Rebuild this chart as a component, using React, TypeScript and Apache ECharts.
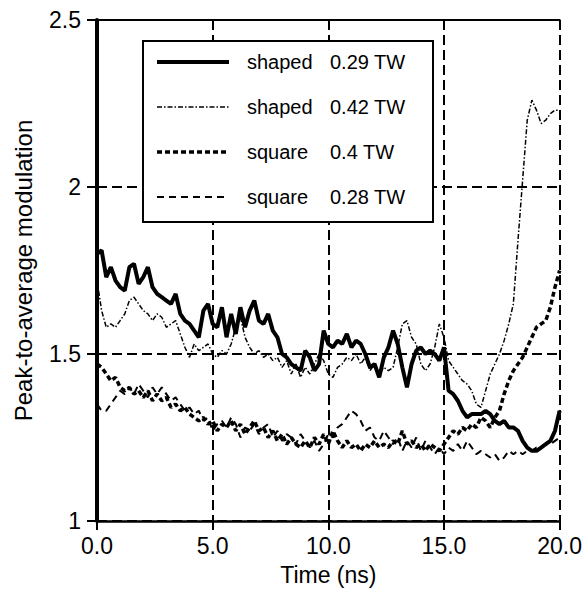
import React, { useEffect, useRef } from "react";
import * as echarts from "echarts";

const T_STEP = 0.2; // ns between samples

const shaped029 = [
  1.80, 1.81, 1.73, 1.76, 1.72, 1.70, 1.69, 1.76, 1.77, 1.71,
  1.73, 1.76, 1.70, 1.68, 1.67, 1.66, 1.65, 1.68, 1.62, 1.60,
  1.59, 1.57, 1.55, 1.63, 1.65, 1.59, 1.58, 1.64, 1.55, 1.62,
  1.56, 1.64, 1.58, 1.63, 1.66, 1.60, 1.59, 1.62, 1.57, 1.55,
  1.50, 1.49, 1.47, 1.46, 1.45, 1.51, 1.49, 1.45, 1.47, 1.57,
  1.53, 1.52, 1.54, 1.53, 1.56, 1.52, 1.54, 1.53, 1.50, 1.46,
  1.47, 1.43, 1.49, 1.52, 1.57, 1.53, 1.46, 1.40, 1.47, 1.51,
  1.52, 1.50, 1.51, 1.50, 1.48, 1.52, 1.39, 1.38, 1.36, 1.33,
  1.31, 1.32, 1.32, 1.32, 1.33, 1.32, 1.30, 1.29, 1.30, 1.28,
  1.28, 1.27, 1.24, 1.22, 1.21, 1.21, 1.22, 1.23, 1.24, 1.27,
  1.33,
];

const shaped042 = [
  1.72, 1.63, 1.58, 1.59, 1.58, 1.60, 1.62, 1.66, 1.67, 1.65,
  1.63, 1.62, 1.60, 1.62, 1.61, 1.58, 1.59, 1.60, 1.56, 1.52,
  1.49, 1.53, 1.51, 1.52, 1.53, 1.50, 1.49, 1.51, 1.50, 1.53,
  1.58, 1.61, 1.55, 1.52, 1.50, 1.51, 1.49, 1.50, 1.48, 1.49,
  1.46, 1.48, 1.44, 1.47, 1.43, 1.46, 1.44, 1.47, 1.50, 1.48,
  1.44, 1.43, 1.46, 1.47, 1.49, 1.48, 1.50, 1.47, 1.49, 1.45,
  1.47, 1.44, 1.46, 1.45, 1.46, 1.52, 1.59, 1.60, 1.55, 1.53,
  1.47, 1.45, 1.47, 1.52, 1.59, 1.55, 1.48, 1.46, 1.44, 1.42,
  1.41, 1.39, 1.35, 1.34, 1.39, 1.44, 1.47, 1.50, 1.54, 1.59,
  1.65, 1.84, 2.02, 2.20, 2.26, 2.23, 2.19, 2.20, 2.22, 2.23,
  2.23,
];

const square04 = [
  1.47, 1.46, 1.44, 1.42, 1.43, 1.40, 1.39, 1.40, 1.38, 1.39,
  1.37, 1.39, 1.36, 1.38, 1.36, 1.37, 1.34, 1.35, 1.33, 1.34,
  1.32, 1.31, 1.30, 1.31, 1.29, 1.30, 1.27, 1.29, 1.28, 1.30,
  1.27, 1.29, 1.26, 1.28, 1.30, 1.27, 1.28, 1.25, 1.27, 1.24,
  1.26, 1.23, 1.25, 1.23, 1.22, 1.24, 1.22, 1.25, 1.23, 1.26,
  1.23, 1.27, 1.24, 1.22, 1.24, 1.22, 1.23, 1.21, 1.23, 1.22,
  1.24, 1.22, 1.23, 1.22, 1.24, 1.23, 1.27, 1.23, 1.24, 1.22,
  1.23, 1.21, 1.23, 1.22, 1.21, 1.23, 1.25, 1.27, 1.26, 1.28,
  1.27, 1.29, 1.28, 1.31, 1.30, 1.28, 1.31, 1.33, 1.38, 1.42,
  1.45, 1.47, 1.49, 1.52, 1.55, 1.58, 1.59, 1.60, 1.64, 1.70,
  1.75,
];

const square028 = [
  1.35, 1.33, 1.33, 1.35, 1.37, 1.39, 1.38, 1.40, 1.38, 1.41,
  1.39, 1.37, 1.40, 1.38, 1.40, 1.38, 1.36, 1.37, 1.35, 1.33,
  1.34, 1.32, 1.33, 1.30, 1.31, 1.27, 1.29, 1.30, 1.28, 1.31,
  1.29, 1.25, 1.28, 1.27, 1.29, 1.26, 1.28, 1.29, 1.25, 1.27,
  1.24, 1.26, 1.25, 1.23, 1.26, 1.24, 1.22, 1.24, 1.21, 1.23,
  1.26, 1.25, 1.28, 1.29, 1.31, 1.33, 1.32, 1.30, 1.27, 1.28,
  1.25, 1.24, 1.27, 1.25, 1.23, 1.25, 1.21, 1.24, 1.22, 1.25,
  1.21, 1.24, 1.22, 1.20, 1.22, 1.20, 1.22, 1.21, 1.23, 1.21,
  1.24, 1.22, 1.20, 1.21, 1.20, 1.19, 1.20, 1.18, 1.19, 1.21,
  1.20, 1.21, 1.20, 1.21, 1.21, 1.22, 1.22, 1.23, 1.23, 1.24,
  1.25,
];

const LEGEND_KIND = ["shaped", "shaped", "square", "square"];
const LEGEND_POWER = ["0.29 TW", "0.42 TW", "0.4 TW", "0.28 TW"];
const X_TICKS = [0, 5, 10, 15, 20];
const Y_TICKS = [1, 1.5, 2, 2.5];
const X_TITLE = "Time (ns)";
const Y_TITLE = "Peak-to-average modulation";

const FONT = "'Liberation Sans', Arial, Helvetica, sans-serif";

const toPairs = (vals: number[]) => vals.map((v, i) => [+(i * T_STEP).toFixed(2), v]);

export default function App() {
  const ref = useRef<HTMLDivElement>(null);
  useEffect(() => {
    if (!ref.current) return;
    const chart = echarts.init(ref.current, null, { renderer: "svg" });
    const names = LEGEND_KIND.map((k, i) => `${k} ${LEGEND_POWER[i]}`);
    const styles: { width: number; type: any }[] = [
      { width: 4, type: "solid" },
      { width: 1.5, type: [5, 2, 1.5, 2] },
      { width: 3.5, type: [5, 3] },
      { width: 2, type: [7, 5] },
    ];
    const datasets = [shaped029, shaped042, square04, square028];
    const order = [3, 2, 1, 0];
    const series = order.map((i) => ({
      name: names[i],
      type: "line",
      data: toPairs(datasets[i]),
      showSymbol: false,
      symbol: "none",
      xAxisIndex: 0,
      yAxisIndex: 0,
      lineStyle: { color: "#000", width: styles[i].width, type: styles[i].type },
      itemStyle: { color: "#000" },
      z: 3 + (3 - i),
    }));
    chart.setOption({
      animation: false,
      backgroundColor: "#fff",
      textStyle: { fontFamily: FONT, color: "#000" },
      grid: { left: 97, right: 25, top: 20, bottom: 77, containLabel: false },
      legend: {
        data: names.map((n, i) => ({
          name: n,
          lineStyle: { color: "#000", width: styles[i].width, type: styles[i].type },
        })),
        orient: "vertical",
        left: 143,
        top: 41,
        itemWidth: 72,
        itemHeight: 14,
        itemGap: 21,
        padding: [9, 27, 13, 12],
        backgroundColor: "#fff",
        borderColor: "#000",
        borderWidth: 2,
        borderRadius: 0,
        z: 10,
        selectedMode: false,
        itemStyle: {
          color: "rgba(0,0,0,0)",
          borderColor: "rgba(0,0,0,0)",
          borderWidth: 0,
          opacity: 0,
        },
        formatter: (name: string) => {
          const idx = names.indexOf(name);
          return `{a|${LEGEND_KIND[idx]}}{b|${LEGEND_POWER[idx]}}`;
        },
        textStyle: {
          fontFamily: FONT,
          fontSize: 20,
          color: "#000",
          lineHeight: 24,
          rich: {
            a: { fontFamily: FONT, fontSize: 20, width: 83, padding: [0, 0, 0, 13], color: "#000" },
            b: { fontFamily: FONT, fontSize: 20, width: 76, color: "#000" },
          },
        },
      },
      xAxis: [
        {
          type: "value",
          min: X_TICKS[0],
          max: X_TICKS[X_TICKS.length - 1],
          interval: 5,
          position: "bottom",
          name: X_TITLE,
          nameLocation: "middle",
          nameGap: 42,
          nameTextStyle: { fontFamily: FONT, fontSize: 23, color: "#000" },
          axisLine: { lineStyle: { color: "#000", width: 2.5 } },
          axisTick: { show: true, inside: false, length: 9, lineStyle: { color: "#000", width: 2 } },
          axisLabel: {
            fontFamily: FONT,
            fontSize: 23,
            color: "#000",
            margin: 13,
            formatter: (v: number) => v.toFixed(1),
          },
          splitLine: { show: true, lineStyle: { color: "#000", width: 2, type: [10, 5] } },
        },
        {
          type: "value",
          min: X_TICKS[0],
          max: X_TICKS[X_TICKS.length - 1],
          interval: 5,
          position: "top",
          axisLine: { lineStyle: { color: "#000", width: 2 } },
          axisTick: { show: false },
          axisLabel: { show: false },
          splitLine: { show: false },
        },
      ],
      yAxis: [
        {
          type: "value",
          min: Y_TICKS[0],
          max: Y_TICKS[Y_TICKS.length - 1],
          interval: 0.5,
          position: "left",
          name: Y_TITLE,
          nameLocation: "middle",
          nameGap: 62,
          nameTextStyle: { fontFamily: FONT, fontSize: 24, color: "#000" },
          axisLine: { show: true, lineStyle: { color: "#000", width: 2.5 } },
          axisTick: { show: true, inside: false, length: 10, lineStyle: { color: "#000", width: 2 } },
          axisLabel: { fontFamily: FONT, fontSize: 23, color: "#000", margin: 16 },
          splitLine: { show: true, lineStyle: { color: "#000", width: 2, type: [10, 5] } },
        },
        {
          type: "value",
          min: Y_TICKS[0],
          max: Y_TICKS[Y_TICKS.length - 1],
          interval: 0.5,
          position: "right",
          axisLine: { show: true, lineStyle: { color: "#000", width: 4 } },
          axisTick: { show: false },
          axisLabel: { show: false },
          splitLine: { show: false },
        },
      ],
      series,
    });
    return () => chart.dispose();
  }, []);
  return (
    <div
      ref={ref}
      style={{ position: "fixed", left: 0, top: 0, width: 585, height: 598, background: "#fff" }}
    />
  );
}
